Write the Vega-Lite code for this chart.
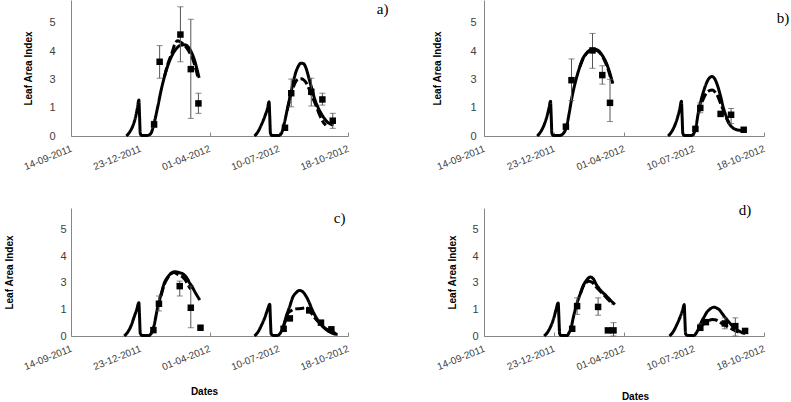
{
  "$schema": "https://vega.github.io/schema/vega-lite/v6.json",
  "background": "white",
  "padding": {"left": 4, "top": 0, "right": 0, "bottom": 0},
  "config": {
    "view": {"stroke": null},
    "font": "Liberation Sans",
    "axis": {"grid": false, "domainColor": "#868686", "tickColor": "#868686", "labelColor": "#404040", "labelFont": "Liberation Sans", "titleFont": "Liberation Sans", "titleFontSize": 10, "titleFontWeight": "bold", "titleColor": "#000000"},
    "axisX": {"labelFontSize": 10, "labelAlign": "right", "labelBaseline": "middle", "labelFlush": false, "labelOverlap": false, "labelBound": false, "tickSize": -4, "labelPadding": 16},
    "axisY": {"labelFontSize": 11, "ticks": false, "labelOverlap": false}
  },
  "datasets": {
    "sim": [
      {"p":"a","s":"S","g":1,"d":"2011-12-03","v":0},
      {"p":"a","s":"S","g":1,"d":"2011-12-08","v":0.15},
      {"p":"a","s":"S","g":1,"d":"2011-12-13","v":0.4},
      {"p":"a","s":"S","g":1,"d":"2011-12-17","v":0.75},
      {"p":"a","s":"S","g":1,"d":"2011-12-19","v":1.0},
      {"p":"a","s":"S","g":1,"d":"2011-12-21","v":1.27},
      {"p":"a","s":"S","g":1,"d":"2011-12-22","v":0.7},
      {"p":"a","s":"S","g":1,"d":"2011-12-23","v":0.1},
      {"p":"a","s":"S","g":1,"d":"2011-12-25","v":0.02},
      {"p":"a","s":"S","g":1,"d":"2012-01-02","v":0.02},
      {"p":"a","s":"S","g":1,"d":"2012-01-07","v":0.08},
      {"p":"a","s":"S","g":1,"d":"2012-01-12","v":0.45},
      {"p":"a","s":"S","g":1,"d":"2012-01-17","v":1.0},
      {"p":"a","s":"S","g":1,"d":"2012-01-22","v":1.6},
      {"p":"a","s":"S","g":1,"d":"2012-01-27","v":2.1},
      {"p":"a","s":"S","g":1,"d":"2012-02-01","v":2.5},
      {"p":"a","s":"S","g":1,"d":"2012-02-07","v":2.85},
      {"p":"a","s":"S","g":1,"d":"2012-02-13","v":3.08},
      {"p":"a","s":"S","g":1,"d":"2012-02-19","v":3.2},
      {"p":"a","s":"S","g":1,"d":"2012-02-25","v":3.22},
      {"p":"a","s":"S","g":1,"d":"2012-03-01","v":3.15},
      {"p":"a","s":"S","g":1,"d":"2012-03-06","v":2.95},
      {"p":"a","s":"S","g":1,"d":"2012-03-10","v":2.7},
      {"p":"a","s":"S","g":1,"d":"2012-03-14","v":2.35},
      {"p":"a","s":"S","g":1,"d":"2012-03-17","v":2.05},
      {"p":"a","s":"D","g":1,"d":"2012-01-27","v":2.1},
      {"p":"a","s":"D","g":1,"d":"2012-02-01","v":2.55},
      {"p":"a","s":"D","g":1,"d":"2012-02-07","v":2.95},
      {"p":"a","s":"D","g":1,"d":"2012-02-11","v":3.25},
      {"p":"a","s":"D","g":1,"d":"2012-02-15","v":3.36},
      {"p":"a","s":"D","g":1,"d":"2012-02-19","v":3.32},
      {"p":"a","s":"D","g":1,"d":"2012-02-25","v":3.2},
      {"p":"a","s":"D","g":1,"d":"2012-03-02","v":3.0},
      {"p":"a","s":"D","g":1,"d":"2012-03-08","v":2.7},
      {"p":"a","s":"D","g":1,"d":"2012-03-13","v":2.3},
      {"p":"a","s":"D","g":1,"d":"2012-03-16","v":2.0},
      {"p":"a","s":"S","g":2,"d":"2012-06-05","v":0},
      {"p":"a","s":"S","g":2,"d":"2012-06-10","v":0.15},
      {"p":"a","s":"S","g":2,"d":"2012-06-15","v":0.4},
      {"p":"a","s":"S","g":2,"d":"2012-06-20","v":0.7},
      {"p":"a","s":"S","g":2,"d":"2012-06-24","v":1.0},
      {"p":"a","s":"S","g":2,"d":"2012-06-26","v":1.21},
      {"p":"a","s":"S","g":2,"d":"2012-06-27","v":0.7},
      {"p":"a","s":"S","g":2,"d":"2012-06-28","v":0.1},
      {"p":"a","s":"S","g":2,"d":"2012-06-30","v":0.02},
      {"p":"a","s":"S","g":2,"d":"2012-07-10","v":0.02},
      {"p":"a","s":"S","g":2,"d":"2012-07-14","v":0.1},
      {"p":"a","s":"S","g":2,"d":"2012-07-18","v":0.45},
      {"p":"a","s":"S","g":2,"d":"2012-07-22","v":0.9},
      {"p":"a","s":"S","g":2,"d":"2012-07-26","v":1.35},
      {"p":"a","s":"S","g":2,"d":"2012-07-30","v":1.8},
      {"p":"a","s":"S","g":2,"d":"2012-08-03","v":2.2},
      {"p":"a","s":"S","g":2,"d":"2012-08-07","v":2.45},
      {"p":"a","s":"S","g":2,"d":"2012-08-11","v":2.57},
      {"p":"a","s":"S","g":2,"d":"2012-08-15","v":2.55},
      {"p":"a","s":"S","g":2,"d":"2012-08-19","v":2.35},
      {"p":"a","s":"S","g":2,"d":"2012-08-23","v":2.0},
      {"p":"a","s":"S","g":2,"d":"2012-08-27","v":1.65},
      {"p":"a","s":"S","g":2,"d":"2012-08-31","v":1.3},
      {"p":"a","s":"S","g":2,"d":"2012-09-04","v":1.05},
      {"p":"a","s":"S","g":2,"d":"2012-09-08","v":0.85},
      {"p":"a","s":"S","g":2,"d":"2012-09-13","v":0.65},
      {"p":"a","s":"S","g":2,"d":"2012-09-18","v":0.5},
      {"p":"a","s":"S","g":2,"d":"2012-09-23","v":0.42},
      {"p":"a","s":"S","g":2,"d":"2012-09-27","v":0.38},
      {"p":"a","s":"D","g":2,"d":"2012-07-22","v":0.9},
      {"p":"a","s":"D","g":2,"d":"2012-07-26","v":1.3},
      {"p":"a","s":"D","g":2,"d":"2012-07-30","v":1.65},
      {"p":"a","s":"D","g":2,"d":"2012-08-03","v":1.9},
      {"p":"a","s":"D","g":2,"d":"2012-08-07","v":2.0},
      {"p":"a","s":"D","g":2,"d":"2012-08-11","v":2.02},
      {"p":"a","s":"D","g":2,"d":"2012-08-15","v":1.98},
      {"p":"a","s":"D","g":2,"d":"2012-08-19","v":1.86},
      {"p":"a","s":"D","g":2,"d":"2012-08-24","v":1.6},
      {"p":"a","s":"D","g":2,"d":"2012-08-29","v":1.3},
      {"p":"a","s":"D","g":2,"d":"2012-09-03","v":1.0},
      {"p":"a","s":"D","g":2,"d":"2012-09-07","v":0.74},
      {"p":"a","s":"D","g":2,"d":"2012-09-12","v":0.5},
      {"p":"a","s":"D","g":2,"d":"2012-09-16","v":0.38},

      {"p":"b","s":"S","g":1,"d":"2011-11-29","v":0},
      {"p":"b","s":"S","g":1,"d":"2011-12-04","v":0.15},
      {"p":"b","s":"S","g":1,"d":"2011-12-09","v":0.4},
      {"p":"b","s":"S","g":1,"d":"2011-12-13","v":0.7},
      {"p":"b","s":"S","g":1,"d":"2011-12-16","v":1.0},
      {"p":"b","s":"S","g":1,"d":"2011-12-18","v":1.23},
      {"p":"b","s":"S","g":1,"d":"2011-12-19","v":0.7},
      {"p":"b","s":"S","g":1,"d":"2011-12-20","v":0.1},
      {"p":"b","s":"S","g":1,"d":"2011-12-22","v":0.02},
      {"p":"b","s":"S","g":1,"d":"2011-12-31","v":0.02},
      {"p":"b","s":"S","g":1,"d":"2012-01-05","v":0.08},
      {"p":"b","s":"S","g":1,"d":"2012-01-08","v":0.2},
      {"p":"b","s":"S","g":1,"d":"2012-01-11","v":0.45},
      {"p":"b","s":"S","g":1,"d":"2012-01-14","v":0.85},
      {"p":"b","s":"S","g":1,"d":"2012-01-18","v":1.41},
      {"p":"b","s":"S","g":1,"d":"2012-01-22","v":1.85},
      {"p":"b","s":"S","g":1,"d":"2012-01-25","v":2.13},
      {"p":"b","s":"S","g":1,"d":"2012-01-29","v":2.45},
      {"p":"b","s":"S","g":1,"d":"2012-02-02","v":2.72},
      {"p":"b","s":"S","g":1,"d":"2012-02-06","v":2.88},
      {"p":"b","s":"S","g":1,"d":"2012-02-11","v":3.0},
      {"p":"b","s":"S","g":1,"d":"2012-02-16","v":3.06},
      {"p":"b","s":"S","g":1,"d":"2012-02-21","v":3.05},
      {"p":"b","s":"S","g":1,"d":"2012-02-25","v":3.0},
      {"p":"b","s":"S","g":1,"d":"2012-02-29","v":2.88},
      {"p":"b","s":"S","g":1,"d":"2012-03-04","v":2.72},
      {"p":"b","s":"S","g":1,"d":"2012-03-08","v":2.5},
      {"p":"b","s":"S","g":1,"d":"2012-03-12","v":2.2},
      {"p":"b","s":"S","g":1,"d":"2012-03-16","v":1.85},
      {"p":"b","s":"D","g":1,"d":"2012-01-29","v":2.45},
      {"p":"b","s":"D","g":1,"d":"2012-02-02","v":2.7},
      {"p":"b","s":"D","g":1,"d":"2012-02-07","v":2.9},
      {"p":"b","s":"D","g":1,"d":"2012-02-12","v":3.02},
      {"p":"b","s":"D","g":1,"d":"2012-02-17","v":3.05},
      {"p":"b","s":"D","g":1,"d":"2012-02-22","v":3.02},
      {"p":"b","s":"D","g":1,"d":"2012-02-26","v":2.95},
      {"p":"b","s":"D","g":1,"d":"2012-03-01","v":2.82},
      {"p":"b","s":"D","g":1,"d":"2012-03-05","v":2.62},
      {"p":"b","s":"D","g":1,"d":"2012-03-09","v":2.38},
      {"p":"b","s":"D","g":1,"d":"2012-03-13","v":2.05},
      {"p":"b","s":"S","g":2,"d":"2012-06-03","v":0},
      {"p":"b","s":"S","g":2,"d":"2012-06-08","v":0.15},
      {"p":"b","s":"S","g":2,"d":"2012-06-13","v":0.4},
      {"p":"b","s":"S","g":2,"d":"2012-06-17","v":0.7},
      {"p":"b","s":"S","g":2,"d":"2012-06-20","v":1.0},
      {"p":"b","s":"S","g":2,"d":"2012-06-22","v":1.23},
      {"p":"b","s":"S","g":2,"d":"2012-06-23","v":0.7},
      {"p":"b","s":"S","g":2,"d":"2012-06-24","v":0.1},
      {"p":"b","s":"S","g":2,"d":"2012-06-26","v":0.02},
      {"p":"b","s":"S","g":2,"d":"2012-07-06","v":0.02},
      {"p":"b","s":"S","g":2,"d":"2012-07-10","v":0.1},
      {"p":"b","s":"S","g":2,"d":"2012-07-13","v":0.35},
      {"p":"b","s":"S","g":2,"d":"2012-07-16","v":0.8},
      {"p":"b","s":"S","g":2,"d":"2012-07-20","v":1.25},
      {"p":"b","s":"S","g":2,"d":"2012-07-24","v":1.6},
      {"p":"b","s":"S","g":2,"d":"2012-07-28","v":1.88},
      {"p":"b","s":"S","g":2,"d":"2012-08-01","v":2.05},
      {"p":"b","s":"S","g":2,"d":"2012-08-05","v":2.1},
      {"p":"b","s":"S","g":2,"d":"2012-08-09","v":2.0},
      {"p":"b","s":"S","g":2,"d":"2012-08-13","v":1.75},
      {"p":"b","s":"S","g":2,"d":"2012-08-17","v":1.4},
      {"p":"b","s":"S","g":2,"d":"2012-08-21","v":1.0},
      {"p":"b","s":"S","g":2,"d":"2012-08-25","v":0.7},
      {"p":"b","s":"S","g":2,"d":"2012-08-29","v":0.45},
      {"p":"b","s":"S","g":2,"d":"2012-09-03","v":0.3},
      {"p":"b","s":"S","g":2,"d":"2012-09-09","v":0.22},
      {"p":"b","s":"S","g":2,"d":"2012-09-14","v":0.2},
      {"p":"b","s":"S","g":2,"d":"2012-09-19","v":0.19},
      {"p":"b","s":"D","g":2,"d":"2012-07-16","v":0.8},
      {"p":"b","s":"D","g":2,"d":"2012-07-20","v":1.1},
      {"p":"b","s":"D","g":2,"d":"2012-07-24","v":1.35},
      {"p":"b","s":"D","g":2,"d":"2012-07-28","v":1.52},
      {"p":"b","s":"D","g":2,"d":"2012-08-01","v":1.6},
      {"p":"b","s":"D","g":2,"d":"2012-08-05","v":1.62},
      {"p":"b","s":"D","g":2,"d":"2012-08-09","v":1.55},
      {"p":"b","s":"D","g":2,"d":"2012-08-13","v":1.4},
      {"p":"b","s":"D","g":2,"d":"2012-08-17","v":1.15},
      {"p":"b","s":"D","g":2,"d":"2012-08-21","v":0.9},
      {"p":"b","s":"D","g":2,"d":"2012-08-25","v":0.65},
      {"p":"b","s":"D","g":2,"d":"2012-08-29","v":0.45},

      {"p":"c","s":"S","g":1,"d":"2011-11-30","v":0},
      {"p":"c","s":"S","g":1,"d":"2011-12-05","v":0.15},
      {"p":"c","s":"S","g":1,"d":"2011-12-10","v":0.4},
      {"p":"c","s":"S","g":1,"d":"2011-12-14","v":0.7},
      {"p":"c","s":"S","g":1,"d":"2011-12-18","v":1.0},
      {"p":"c","s":"S","g":1,"d":"2011-12-21","v":1.25},
      {"p":"c","s":"S","g":1,"d":"2011-12-22","v":0.7},
      {"p":"c","s":"S","g":1,"d":"2011-12-23","v":0.1},
      {"p":"c","s":"S","g":1,"d":"2011-12-26","v":0.02},
      {"p":"c","s":"S","g":1,"d":"2012-01-04","v":0.02},
      {"p":"c","s":"S","g":1,"d":"2012-01-08","v":0.1},
      {"p":"c","s":"S","g":1,"d":"2012-01-12","v":0.4},
      {"p":"c","s":"S","g":1,"d":"2012-01-17","v":1.06},
      {"p":"c","s":"S","g":1,"d":"2012-01-22","v":1.56},
      {"p":"c","s":"S","g":1,"d":"2012-01-27","v":2.0},
      {"p":"c","s":"S","g":1,"d":"2012-02-01","v":2.22},
      {"p":"c","s":"S","g":1,"d":"2012-02-06","v":2.36},
      {"p":"c","s":"S","g":1,"d":"2012-02-10","v":2.41},
      {"p":"c","s":"S","g":1,"d":"2012-02-14","v":2.4},
      {"p":"c","s":"S","g":1,"d":"2012-02-18","v":2.37},
      {"p":"c","s":"S","g":1,"d":"2012-02-22","v":2.34},
      {"p":"c","s":"S","g":1,"d":"2012-02-25","v":2.28},
      {"p":"c","s":"S","g":1,"d":"2012-02-29","v":2.15},
      {"p":"c","s":"S","g":1,"d":"2012-03-03","v":2.0},
      {"p":"c","s":"S","g":1,"d":"2012-03-07","v":1.85},
      {"p":"c","s":"S","g":1,"d":"2012-03-10","v":1.7},
      {"p":"c","s":"S","g":1,"d":"2012-03-14","v":1.52},
      {"p":"c","s":"S","g":1,"d":"2012-03-18","v":1.35},
      {"p":"c","s":"D","g":1,"d":"2012-01-22","v":1.5},
      {"p":"c","s":"D","g":1,"d":"2012-01-27","v":1.95},
      {"p":"c","s":"D","g":1,"d":"2012-02-01","v":2.2},
      {"p":"c","s":"D","g":1,"d":"2012-02-06","v":2.35},
      {"p":"c","s":"D","g":1,"d":"2012-02-10","v":2.38},
      {"p":"c","s":"D","g":1,"d":"2012-02-14","v":2.33},
      {"p":"c","s":"D","g":1,"d":"2012-02-18","v":2.28},
      {"p":"c","s":"D","g":1,"d":"2012-02-22","v":2.22},
      {"p":"c","s":"D","g":1,"d":"2012-02-26","v":2.1},
      {"p":"c","s":"D","g":1,"d":"2012-03-01","v":1.92},
      {"p":"c","s":"D","g":1,"d":"2012-03-05","v":1.75},
      {"p":"c","s":"S","g":2,"d":"2012-06-05","v":0},
      {"p":"c","s":"S","g":2,"d":"2012-06-10","v":0.15},
      {"p":"c","s":"S","g":2,"d":"2012-06-15","v":0.4},
      {"p":"c","s":"S","g":2,"d":"2012-06-20","v":0.7},
      {"p":"c","s":"S","g":2,"d":"2012-06-24","v":1.0},
      {"p":"c","s":"S","g":2,"d":"2012-06-27","v":1.19},
      {"p":"c","s":"S","g":2,"d":"2012-06-28","v":0.6},
      {"p":"c","s":"S","g":2,"d":"2012-06-29","v":0.08},
      {"p":"c","s":"S","g":2,"d":"2012-07-02","v":0.02},
      {"p":"c","s":"S","g":2,"d":"2012-07-08","v":0.02},
      {"p":"c","s":"S","g":2,"d":"2012-07-12","v":0.1},
      {"p":"c","s":"S","g":2,"d":"2012-07-16","v":0.31},
      {"p":"c","s":"S","g":2,"d":"2012-07-21","v":0.75},
      {"p":"c","s":"S","g":2,"d":"2012-07-26","v":1.12},
      {"p":"c","s":"S","g":2,"d":"2012-07-30","v":1.44},
      {"p":"c","s":"S","g":2,"d":"2012-08-04","v":1.62},
      {"p":"c","s":"S","g":2,"d":"2012-08-09","v":1.71},
      {"p":"c","s":"S","g":2,"d":"2012-08-14","v":1.65},
      {"p":"c","s":"S","g":2,"d":"2012-08-21","v":1.37},
      {"p":"c","s":"S","g":2,"d":"2012-08-28","v":0.94},
      {"p":"c","s":"S","g":2,"d":"2012-09-02","v":0.7},
      {"p":"c","s":"S","g":2,"d":"2012-09-07","v":0.5},
      {"p":"c","s":"S","g":2,"d":"2012-09-13","v":0.32},
      {"p":"c","s":"S","g":2,"d":"2012-09-19","v":0.19},
      {"p":"c","s":"S","g":2,"d":"2012-09-26","v":0.1},
      {"p":"c","s":"S","g":2,"d":"2012-10-03","v":0.06},
      {"p":"c","s":"D","g":2,"d":"2012-07-16","v":0.31},
      {"p":"c","s":"D","g":2,"d":"2012-07-20","v":0.6},
      {"p":"c","s":"D","g":2,"d":"2012-07-23","v":0.85},
      {"p":"c","s":"D","g":2,"d":"2012-07-28","v":0.95},
      {"p":"c","s":"D","g":2,"d":"2012-08-01","v":1.0},
      {"p":"c","s":"D","g":2,"d":"2012-08-06","v":1.02},
      {"p":"c","s":"D","g":2,"d":"2012-08-11","v":1.03},
      {"p":"c","s":"D","g":2,"d":"2012-08-16","v":1.05},
      {"p":"c","s":"D","g":2,"d":"2012-08-20","v":1.06},
      {"p":"c","s":"D","g":2,"d":"2012-08-25","v":0.9},
      {"p":"c","s":"D","g":2,"d":"2012-08-30","v":0.72},
      {"p":"c","s":"D","g":2,"d":"2012-09-04","v":0.56},
      {"p":"c","s":"D","g":2,"d":"2012-09-10","v":0.4},
      {"p":"c","s":"D","g":2,"d":"2012-09-16","v":0.27},
      {"p":"c","s":"D","g":2,"d":"2012-09-24","v":0.19},
      {"p":"c","s":"D","g":2,"d":"2012-10-01","v":0.06},

      {"p":"d","s":"S","g":1,"d":"2011-12-09","v":0},
      {"p":"d","s":"S","g":1,"d":"2011-12-14","v":0.15},
      {"p":"d","s":"S","g":1,"d":"2011-12-19","v":0.4},
      {"p":"d","s":"S","g":1,"d":"2011-12-23","v":0.7},
      {"p":"d","s":"S","g":1,"d":"2011-12-26","v":1.0},
      {"p":"d","s":"S","g":1,"d":"2011-12-29","v":1.24},
      {"p":"d","s":"S","g":1,"d":"2011-12-30","v":0.7},
      {"p":"d","s":"S","g":1,"d":"2011-12-31","v":0.1},
      {"p":"d","s":"S","g":1,"d":"2012-01-02","v":0.02},
      {"p":"d","s":"S","g":1,"d":"2012-01-11","v":0.02},
      {"p":"d","s":"S","g":1,"d":"2012-01-13","v":0.1},
      {"p":"d","s":"S","g":1,"d":"2012-01-16","v":0.27},
      {"p":"d","s":"S","g":1,"d":"2012-01-20","v":0.74},
      {"p":"d","s":"S","g":1,"d":"2012-01-25","v":1.24},
      {"p":"d","s":"S","g":1,"d":"2012-01-30","v":1.62},
      {"p":"d","s":"S","g":1,"d":"2012-02-03","v":1.9},
      {"p":"d","s":"S","g":1,"d":"2012-02-08","v":2.11},
      {"p":"d","s":"S","g":1,"d":"2012-02-13","v":2.21},
      {"p":"d","s":"S","g":1,"d":"2012-02-18","v":2.11},
      {"p":"d","s":"S","g":1,"d":"2012-02-21","v":1.95},
      {"p":"d","s":"S","g":1,"d":"2012-02-25","v":1.8},
      {"p":"d","s":"S","g":1,"d":"2012-02-29","v":1.67},
      {"p":"d","s":"S","g":1,"d":"2012-03-05","v":1.55},
      {"p":"d","s":"S","g":1,"d":"2012-03-12","v":1.36},
      {"p":"d","s":"S","g":1,"d":"2012-03-19","v":1.18},
      {"p":"d","s":"D","g":1,"d":"2012-01-30","v":1.6},
      {"p":"d","s":"D","g":1,"d":"2012-02-03","v":1.88},
      {"p":"d","s":"D","g":1,"d":"2012-02-07","v":2.0},
      {"p":"d","s":"D","g":1,"d":"2012-02-11","v":2.05},
      {"p":"d","s":"D","g":1,"d":"2012-02-16","v":2.0},
      {"p":"d","s":"D","g":1,"d":"2012-02-21","v":1.85},
      {"p":"d","s":"D","g":1,"d":"2012-02-27","v":1.68},
      {"p":"d","s":"D","g":1,"d":"2012-03-04","v":1.52},
      {"p":"d","s":"D","g":1,"d":"2012-03-10","v":1.35},
      {"p":"d","s":"D","g":1,"d":"2012-03-16","v":1.2},
      {"p":"d","s":"S","g":2,"d":"2012-06-05","v":0},
      {"p":"d","s":"S","g":2,"d":"2012-06-10","v":0.15},
      {"p":"d","s":"S","g":2,"d":"2012-06-15","v":0.4},
      {"p":"d","s":"S","g":2,"d":"2012-06-20","v":0.7},
      {"p":"d","s":"S","g":2,"d":"2012-06-24","v":1.0},
      {"p":"d","s":"S","g":2,"d":"2012-06-26","v":1.18},
      {"p":"d","s":"S","g":2,"d":"2012-06-27","v":0.6},
      {"p":"d","s":"S","g":2,"d":"2012-06-28","v":0.08},
      {"p":"d","s":"S","g":2,"d":"2012-07-01","v":0.02},
      {"p":"d","s":"S","g":2,"d":"2012-07-10","v":0.02},
      {"p":"d","s":"S","g":2,"d":"2012-07-13","v":0.1},
      {"p":"d","s":"S","g":2,"d":"2012-07-18","v":0.37},
      {"p":"d","s":"S","g":2,"d":"2012-07-21","v":0.55},
      {"p":"d","s":"S","g":2,"d":"2012-07-25","v":0.74},
      {"p":"d","s":"S","g":2,"d":"2012-07-28","v":0.88},
      {"p":"d","s":"S","g":2,"d":"2012-08-01","v":0.99},
      {"p":"d","s":"S","g":2,"d":"2012-08-04","v":1.05},
      {"p":"d","s":"S","g":2,"d":"2012-08-08","v":1.08},
      {"p":"d","s":"S","g":2,"d":"2012-08-11","v":1.05},
      {"p":"d","s":"S","g":2,"d":"2012-08-15","v":0.99},
      {"p":"d","s":"S","g":2,"d":"2012-08-19","v":0.85},
      {"p":"d","s":"S","g":2,"d":"2012-08-24","v":0.68},
      {"p":"d","s":"S","g":2,"d":"2012-08-29","v":0.52},
      {"p":"d","s":"S","g":2,"d":"2012-09-03","v":0.37},
      {"p":"d","s":"S","g":2,"d":"2012-09-07","v":0.27},
      {"p":"d","s":"S","g":2,"d":"2012-09-12","v":0.19},
      {"p":"d","s":"S","g":2,"d":"2012-09-17","v":0.13},
      {"p":"d","s":"S","g":2,"d":"2012-09-21","v":0.09},
      {"p":"d","s":"D","g":2,"d":"2012-07-18","v":0.3},
      {"p":"d","s":"D","g":2,"d":"2012-07-22","v":0.42},
      {"p":"d","s":"D","g":2,"d":"2012-07-27","v":0.5},
      {"p":"d","s":"D","g":2,"d":"2012-07-31","v":0.57},
      {"p":"d","s":"D","g":2,"d":"2012-08-05","v":0.62},
      {"p":"d","s":"D","g":2,"d":"2012-08-09","v":0.61},
      {"p":"d","s":"D","g":2,"d":"2012-08-12","v":0.58},
      {"p":"d","s":"D","g":2,"d":"2012-08-17","v":0.5},
      {"p":"d","s":"D","g":2,"d":"2012-08-22","v":0.43},
      {"p":"d","s":"D","g":2,"d":"2012-08-28","v":0.33},
      {"p":"d","s":"D","g":2,"d":"2012-09-03","v":0.25},
      {"p":"d","s":"D","g":2,"d":"2012-09-08","v":0.18},
      {"p":"d","s":"D","g":2,"d":"2012-09-13","v":0.14},
      {"p":"d","s":"D","g":2,"d":"2012-09-17","v":0.12}
    ],
    "obs": [
      {"p":"a","d":"2012-01-12","v":0.41,"lo":0.3,"hi":0.52},
      {"p":"a","d":"2012-01-20","v":2.62,"lo":2.04,"hi":3.19},
      {"p":"a","d":"2012-02-19","v":3.58,"lo":2.62,"hi":4.56},
      {"p":"a","d":"2012-03-05","v":2.36,"lo":0.62,"hi":4.12},
      {"p":"a","d":"2012-03-16","v":1.15,"lo":0.8,"hi":1.51},
      {"p":"a","d":"2012-07-19","v":0.29},
      {"p":"a","d":"2012-07-28","v":1.51,"lo":1.03,"hi":2.01},
      {"p":"a","d":"2012-08-26","v":1.56,"lo":1.06,"hi":2.04},
      {"p":"a","d":"2012-09-11","v":1.29,"lo":1.09,"hi":1.51},
      {"p":"a","d":"2012-09-26","v":0.54,"lo":0.27,"hi":0.8},
      {"p":"b","d":"2012-01-09","v":0.33},
      {"p":"b","d":"2012-01-17","v":1.97,"lo":1.25,"hi":2.72},
      {"p":"b","d":"2012-02-16","v":3.02,"lo":2.39,"hi":3.62},
      {"p":"b","d":"2012-03-01","v":2.15,"lo":1.83,"hi":2.48},
      {"p":"b","d":"2012-03-12","v":1.17,"lo":0.51,"hi":2.0},
      {"p":"b","d":"2012-07-12","v":0.25},
      {"p":"b","d":"2012-07-19","v":0.99,"lo":0.82,"hi":1.17},
      {"p":"b","d":"2012-08-17","v":0.78},
      {"p":"b","d":"2012-09-01","v":0.75,"lo":0.44,"hi":0.97},
      {"p":"b","d":"2012-09-19","v":0.22},
      {"p":"c","d":"2012-01-11","v":0.22},
      {"p":"c","d":"2012-01-19","v":1.21,"lo":0.94,"hi":1.5},
      {"p":"c","d":"2012-02-18","v":1.87,"lo":1.5,"hi":2.06},
      {"p":"c","d":"2012-03-05","v":1.06,"lo":0.31,"hi":1.87},
      {"p":"c","d":"2012-03-19","v":0.31},
      {"p":"c","d":"2012-07-17","v":0.27,"lo":0.2,"hi":0.35},
      {"p":"c","d":"2012-07-26","v":0.66},
      {"p":"c","d":"2012-08-23","v":0.96},
      {"p":"c","d":"2012-09-09","v":0.5},
      {"p":"c","d":"2012-09-24","v":0.25},
      {"p":"d","d":"2012-01-18","v":0.27},
      {"p":"d","d":"2012-01-25","v":1.12,"lo":0.81,"hi":1.43},
      {"p":"d","d":"2012-02-24","v":1.09,"lo":0.78,"hi":1.43},
      {"p":"d","d":"2012-03-09","v":0.21},
      {"p":"d","d":"2012-03-17","v":0.21,"lo":0.0,"hi":0.5},
      {"p":"d","d":"2012-07-19","v":0.31,"lo":0.2,"hi":0.45},
      {"p":"d","d":"2012-07-27","v":0.52},
      {"p":"d","d":"2012-08-23","v":0.47,"lo":0.27,"hi":0.68},
      {"p":"d","d":"2012-09-07","v":0.37,"lo":0.0,"hi":0.68},
      {"p":"d","d":"2012-09-21","v":0.19}
    ]
  },
  "columns": 2,
  "bounds": "flush",
  "spacing": {"row": 72, "column": 136},
  "concat": [
    {
      "width": 277, "height": 136,
      "layer": [
        {
          "encoding": {"x": {"field": "d", "type": "temporal", "scale": {"type": "utc", "nice": false, "domain": [{"year": 2011, "month": 9, "date": 14, "utc": true}, {"year": 2012, "month": 10, "date": 18, "utc": true}]}, "axis": {"title": null, "labelAngle": -22, "values": [{"year": 2011, "month": 9, "date": 14, "utc": true}, {"year": 2011, "month": 12, "date": 23, "utc": true}, {"year": 2012, "month": 4, "date": 1, "utc": true}, {"year": 2012, "month": 7, "date": 10, "utc": true}, {"year": 2012, "month": 10, "date": 18, "utc": true}], "labelExpr": "utcFormat(datum.value, '%d-%m-%Y')"}}},
          "layer": [
            {"data": {"name": "sim"}, "transform": [{"filter": "datum.p == 'a'"}], "mark": {"type": "line", "color": "black", "strokeWidth": 3, "interpolate": "monotone"}, "encoding": {"y": {"field": "v", "type": "quantitative", "scale": {"domain": [0, 4.8], "nice": false}, "axis": {"title": "Leaf Area Index", "labelOverlap": false, "tickCount": 5, "values": [0, 1, 2, 3, 4], "labelExpr": "'' + (datum.value >= 2 ? datum.value + 1 : datum.value)", "labelPadding": 16, "titlePadding": 15}}, "strokeDash": {"field": "s", "type": "nominal", "scale": {"domain": ["S", "D"], "range": [[1, 0], [9, 3]]}, "legend": null}, "detail": {"field": "g", "type": "nominal"}}},
            {"data": {"name": "obs"}, "transform": [{"filter": "datum.p == 'a'"}], "mark": {"type": "rule", "color": "#555555", "strokeWidth": 1}, "encoding": {"y": {"field": "lo", "type": "quantitative", "axis": {"title": "Leaf Area Index", "labelOverlap": false, "tickCount": 5, "values": [0, 1, 2, 3, 4], "labelExpr": "'' + (datum.value >= 2 ? datum.value + 1 : datum.value)", "labelPadding": 16, "titlePadding": 15}}, "y2": {"field": "hi"}}},
            {"data": {"name": "obs"}, "transform": [{"filter": "datum.p == 'a'"}], "mark": {"type": "tick", "orient": "horizontal", "color": "#555555", "size": 6, "thickness": 1}, "encoding": {"y": {"field": "lo", "type": "quantitative", "axis": {"title": "Leaf Area Index", "labelOverlap": false, "tickCount": 5, "values": [0, 1, 2, 3, 4], "labelExpr": "'' + (datum.value >= 2 ? datum.value + 1 : datum.value)", "labelPadding": 16, "titlePadding": 15}}}},
            {"data": {"name": "obs"}, "transform": [{"filter": "datum.p == 'a'"}], "mark": {"type": "tick", "orient": "horizontal", "color": "#555555", "size": 6, "thickness": 1}, "encoding": {"y": {"field": "hi", "type": "quantitative", "axis": {"title": "Leaf Area Index", "labelOverlap": false, "tickCount": 5, "values": [0, 1, 2, 3, 4], "labelExpr": "'' + (datum.value >= 2 ? datum.value + 1 : datum.value)", "labelPadding": 16, "titlePadding": 15}}}},
            {"data": {"name": "obs"}, "transform": [{"filter": "datum.p == 'a'"}], "mark": {"type": "point", "shape": "square", "filled": true, "size": 42, "color": "black", "opacity": 1}, "encoding": {"y": {"field": "v", "type": "quantitative", "axis": {"title": "Leaf Area Index", "labelOverlap": false, "tickCount": 5, "values": [0, 1, 2, 3, 4], "labelExpr": "'' + (datum.value >= 2 ? datum.value + 1 : datum.value)", "labelPadding": 16, "titlePadding": 15}}}}
          ]
        },
        {"data": {"values": [{}]}, "mark": {"type": "text", "font": "Liberation Serif", "fontSize": 15, "color": "black"}, "encoding": {"x": {"datum": {"year": 2012, "month": 12, "date": 7, "utc": true}, "type": "temporal"}, "y": {"datum": 4.48, "type": "quantitative", "axis": {"title": "Leaf Area Index", "labelOverlap": false, "tickCount": 5, "values": [0, 1, 2, 3, 4], "labelExpr": "'' + (datum.value >= 2 ? datum.value + 1 : datum.value)", "labelPadding": 16, "titlePadding": 15}}, "text": {"value": "a)"}}}
      ]
    },
    {
      "width": 280, "height": 136,
      "layer": [
        {
          "encoding": {"x": {"field": "d", "type": "temporal", "scale": {"type": "utc", "nice": false, "domain": [{"year": 2011, "month": 9, "date": 14, "utc": true}, {"year": 2012, "month": 10, "date": 18, "utc": true}]}, "axis": {"title": null, "labelAngle": -22, "values": [{"year": 2011, "month": 9, "date": 14, "utc": true}, {"year": 2011, "month": 12, "date": 23, "utc": true}, {"year": 2012, "month": 4, "date": 1, "utc": true}, {"year": 2012, "month": 7, "date": 10, "utc": true}, {"year": 2012, "month": 10, "date": 18, "utc": true}], "labelExpr": "utcFormat(datum.value, '%d-%m-%Y')"}}},
          "layer": [
            {"data": {"name": "sim"}, "transform": [{"filter": "datum.p == 'b'"}], "mark": {"type": "line", "color": "black", "strokeWidth": 3, "interpolate": "monotone"}, "encoding": {"y": {"field": "v", "type": "quantitative", "scale": {"domain": [0, 4.8], "nice": false}, "axis": {"title": "Leaf Area Index", "labelOverlap": false, "tickCount": 5, "values": [0, 1, 2, 3, 4], "labelExpr": "'' + (datum.value >= 2 ? datum.value + 1 : datum.value)", "labelPadding": 8, "titlePadding": 27}}, "strokeDash": {"field": "s", "type": "nominal", "scale": {"domain": ["S", "D"], "range": [[1, 0], [9, 3]]}, "legend": null}, "detail": {"field": "g", "type": "nominal"}}},
            {"data": {"name": "obs"}, "transform": [{"filter": "datum.p == 'b'"}], "mark": {"type": "rule", "color": "#555555", "strokeWidth": 1}, "encoding": {"y": {"field": "lo", "type": "quantitative", "axis": {"title": "Leaf Area Index", "labelOverlap": false, "tickCount": 5, "values": [0, 1, 2, 3, 4], "labelExpr": "'' + (datum.value >= 2 ? datum.value + 1 : datum.value)", "labelPadding": 8, "titlePadding": 27}}, "y2": {"field": "hi"}}},
            {"data": {"name": "obs"}, "transform": [{"filter": "datum.p == 'b'"}], "mark": {"type": "tick", "orient": "horizontal", "color": "#555555", "size": 6, "thickness": 1}, "encoding": {"y": {"field": "lo", "type": "quantitative", "axis": {"title": "Leaf Area Index", "labelOverlap": false, "tickCount": 5, "values": [0, 1, 2, 3, 4], "labelExpr": "'' + (datum.value >= 2 ? datum.value + 1 : datum.value)", "labelPadding": 8, "titlePadding": 27}}}},
            {"data": {"name": "obs"}, "transform": [{"filter": "datum.p == 'b'"}], "mark": {"type": "tick", "orient": "horizontal", "color": "#555555", "size": 6, "thickness": 1}, "encoding": {"y": {"field": "hi", "type": "quantitative", "axis": {"title": "Leaf Area Index", "labelOverlap": false, "tickCount": 5, "values": [0, 1, 2, 3, 4], "labelExpr": "'' + (datum.value >= 2 ? datum.value + 1 : datum.value)", "labelPadding": 8, "titlePadding": 27}}}},
            {"data": {"name": "obs"}, "transform": [{"filter": "datum.p == 'b'"}], "mark": {"type": "point", "shape": "square", "filled": true, "size": 42, "color": "black", "opacity": 1}, "encoding": {"y": {"field": "v", "type": "quantitative", "axis": {"title": "Leaf Area Index", "labelOverlap": false, "tickCount": 5, "values": [0, 1, 2, 3, 4], "labelExpr": "'' + (datum.value >= 2 ? datum.value + 1 : datum.value)", "labelPadding": 8, "titlePadding": 27}}}}
          ]
        },
        {"data": {"values": [{}]}, "mark": {"type": "text", "font": "Liberation Serif", "fontSize": 15, "color": "black"}, "encoding": {"x": {"datum": {"year": 2012, "month": 11, "date": 14, "utc": true}, "type": "temporal"}, "y": {"datum": 4.18, "type": "quantitative", "axis": {"title": "Leaf Area Index", "labelOverlap": false, "tickCount": 5, "values": [0, 1, 2, 3, 4], "labelExpr": "'' + (datum.value >= 2 ? datum.value + 1 : datum.value)", "labelPadding": 8, "titlePadding": 27}}, "text": {"value": "b)"}}}
      ]
    },
    {
      "width": 277, "height": 128,
      "layer": [
        {
          "encoding": {"x": {"field": "d", "type": "temporal", "scale": {"type": "utc", "nice": false, "domain": [{"year": 2011, "month": 9, "date": 14, "utc": true}, {"year": 2012, "month": 10, "date": 18, "utc": true}]}, "axis": {"title": "Dates", "titlePadding": 15, "titleX": 133, "labelAngle": -22, "values": [{"year": 2011, "month": 9, "date": 14, "utc": true}, {"year": 2011, "month": 12, "date": 23, "utc": true}, {"year": 2012, "month": 4, "date": 1, "utc": true}, {"year": 2012, "month": 7, "date": 10, "utc": true}, {"year": 2012, "month": 10, "date": 18, "utc": true}], "labelExpr": "utcFormat(datum.value, '%d-%m-%Y')"}}},
          "layer": [
            {"data": {"name": "sim"}, "transform": [{"filter": "datum.p == 'c'"}], "mark": {"type": "line", "color": "black", "strokeWidth": 3, "interpolate": "monotone"}, "encoding": {"y": {"field": "v", "type": "quantitative", "scale": {"domain": [0, 4.8], "nice": false}, "axis": {"title": "Leaf Area Index", "labelOverlap": false, "tickCount": 5, "values": [0, 1, 2, 3, 4], "labelExpr": "'' + (datum.value >= 2 ? datum.value + 1 : datum.value)", "labelPadding": 5, "titlePadding": 45}}, "strokeDash": {"field": "s", "type": "nominal", "scale": {"domain": ["S", "D"], "range": [[1, 0], [9, 3]]}, "legend": null}, "detail": {"field": "g", "type": "nominal"}}},
            {"data": {"name": "obs"}, "transform": [{"filter": "datum.p == 'c'"}], "mark": {"type": "rule", "color": "#555555", "strokeWidth": 1}, "encoding": {"y": {"field": "lo", "type": "quantitative", "axis": {"title": "Leaf Area Index", "labelOverlap": false, "tickCount": 5, "values": [0, 1, 2, 3, 4], "labelExpr": "'' + (datum.value >= 2 ? datum.value + 1 : datum.value)", "labelPadding": 5, "titlePadding": 45}}, "y2": {"field": "hi"}}},
            {"data": {"name": "obs"}, "transform": [{"filter": "datum.p == 'c'"}], "mark": {"type": "tick", "orient": "horizontal", "color": "#555555", "size": 6, "thickness": 1}, "encoding": {"y": {"field": "lo", "type": "quantitative", "axis": {"title": "Leaf Area Index", "labelOverlap": false, "tickCount": 5, "values": [0, 1, 2, 3, 4], "labelExpr": "'' + (datum.value >= 2 ? datum.value + 1 : datum.value)", "labelPadding": 5, "titlePadding": 45}}}},
            {"data": {"name": "obs"}, "transform": [{"filter": "datum.p == 'c'"}], "mark": {"type": "tick", "orient": "horizontal", "color": "#555555", "size": 6, "thickness": 1}, "encoding": {"y": {"field": "hi", "type": "quantitative", "axis": {"title": "Leaf Area Index", "labelOverlap": false, "tickCount": 5, "values": [0, 1, 2, 3, 4], "labelExpr": "'' + (datum.value >= 2 ? datum.value + 1 : datum.value)", "labelPadding": 5, "titlePadding": 45}}}},
            {"data": {"name": "obs"}, "transform": [{"filter": "datum.p == 'c'"}], "mark": {"type": "point", "shape": "square", "filled": true, "size": 42, "color": "black", "opacity": 1}, "encoding": {"y": {"field": "v", "type": "quantitative", "axis": {"title": "Leaf Area Index", "labelOverlap": false, "tickCount": 5, "values": [0, 1, 2, 3, 4], "labelExpr": "'' + (datum.value >= 2 ? datum.value + 1 : datum.value)", "labelPadding": 5, "titlePadding": 45}}}}
          ]
        },
        {"data": {"values": [{}]}, "mark": {"type": "text", "font": "Liberation Serif", "fontSize": 15, "color": "black"}, "encoding": {"x": {"datum": {"year": 2012, "month": 10, "date": 6, "utc": true}, "type": "temporal"}, "y": {"datum": 4.42, "type": "quantitative", "axis": {"title": "Leaf Area Index", "labelOverlap": false, "tickCount": 5, "values": [0, 1, 2, 3, 4], "labelExpr": "'' + (datum.value >= 2 ? datum.value + 1 : datum.value)", "labelPadding": 5, "titlePadding": 45}}, "text": {"value": "c)"}}}
      ]
    },
    {
      "width": 280, "height": 128,
      "layer": [
        {
          "encoding": {"x": {"field": "d", "type": "temporal", "scale": {"type": "utc", "nice": false, "domain": [{"year": 2011, "month": 9, "date": 14, "utc": true}, {"year": 2012, "month": 10, "date": 18, "utc": true}]}, "axis": {"title": "Dates", "titlePadding": 20, "titleX": 151, "labelAngle": -22, "values": [{"year": 2011, "month": 9, "date": 14, "utc": true}, {"year": 2011, "month": 12, "date": 23, "utc": true}, {"year": 2012, "month": 4, "date": 1, "utc": true}, {"year": 2012, "month": 7, "date": 10, "utc": true}, {"year": 2012, "month": 10, "date": 18, "utc": true}], "labelExpr": "utcFormat(datum.value, '%d-%m-%Y')"}}},
          "layer": [
            {"data": {"name": "sim"}, "transform": [{"filter": "datum.p == 'd'"}], "mark": {"type": "line", "color": "black", "strokeWidth": 3, "interpolate": "monotone"}, "encoding": {"y": {"field": "v", "type": "quantitative", "scale": {"domain": [0, 4.8], "nice": false}, "axis": {"title": "Leaf Area Index", "labelOverlap": false, "tickCount": 5, "values": [0, 1, 2, 3, 4], "labelExpr": "'' + (datum.value >= 2 ? datum.value + 1 : datum.value)", "labelPadding": 6, "titlePadding": 14}}, "strokeDash": {"field": "s", "type": "nominal", "scale": {"domain": ["S", "D"], "range": [[1, 0], [9, 3]]}, "legend": null}, "detail": {"field": "g", "type": "nominal"}}},
            {"data": {"name": "obs"}, "transform": [{"filter": "datum.p == 'd'"}], "mark": {"type": "rule", "color": "#555555", "strokeWidth": 1}, "encoding": {"y": {"field": "lo", "type": "quantitative", "axis": {"title": "Leaf Area Index", "labelOverlap": false, "tickCount": 5, "values": [0, 1, 2, 3, 4], "labelExpr": "'' + (datum.value >= 2 ? datum.value + 1 : datum.value)", "labelPadding": 6, "titlePadding": 14}}, "y2": {"field": "hi"}}},
            {"data": {"name": "obs"}, "transform": [{"filter": "datum.p == 'd'"}], "mark": {"type": "tick", "orient": "horizontal", "color": "#555555", "size": 6, "thickness": 1}, "encoding": {"y": {"field": "lo", "type": "quantitative", "axis": {"title": "Leaf Area Index", "labelOverlap": false, "tickCount": 5, "values": [0, 1, 2, 3, 4], "labelExpr": "'' + (datum.value >= 2 ? datum.value + 1 : datum.value)", "labelPadding": 6, "titlePadding": 14}}}},
            {"data": {"name": "obs"}, "transform": [{"filter": "datum.p == 'd'"}], "mark": {"type": "tick", "orient": "horizontal", "color": "#555555", "size": 6, "thickness": 1}, "encoding": {"y": {"field": "hi", "type": "quantitative", "axis": {"title": "Leaf Area Index", "labelOverlap": false, "tickCount": 5, "values": [0, 1, 2, 3, 4], "labelExpr": "'' + (datum.value >= 2 ? datum.value + 1 : datum.value)", "labelPadding": 6, "titlePadding": 14}}}},
            {"data": {"name": "obs"}, "transform": [{"filter": "datum.p == 'd'"}], "mark": {"type": "point", "shape": "square", "filled": true, "size": 42, "color": "black", "opacity": 1}, "encoding": {"y": {"field": "v", "type": "quantitative", "axis": {"title": "Leaf Area Index", "labelOverlap": false, "tickCount": 5, "values": [0, 1, 2, 3, 4], "labelExpr": "'' + (datum.value >= 2 ? datum.value + 1 : datum.value)", "labelPadding": 6, "titlePadding": 14}}}}
          ]
        },
        {"data": {"values": [{}]}, "mark": {"type": "text", "font": "Liberation Serif", "fontSize": 15, "color": "black"}, "encoding": {"x": {"datum": {"year": 2012, "month": 9, "date": 21, "utc": true}, "type": "temporal"}, "y": {"datum": 4.72, "type": "quantitative", "axis": {"title": "Leaf Area Index", "labelOverlap": false, "tickCount": 5, "values": [0, 1, 2, 3, 4], "labelExpr": "'' + (datum.value >= 2 ? datum.value + 1 : datum.value)", "labelPadding": 6, "titlePadding": 14}}, "text": {"value": "d)"}}}
      ]
    }
  ]
}
